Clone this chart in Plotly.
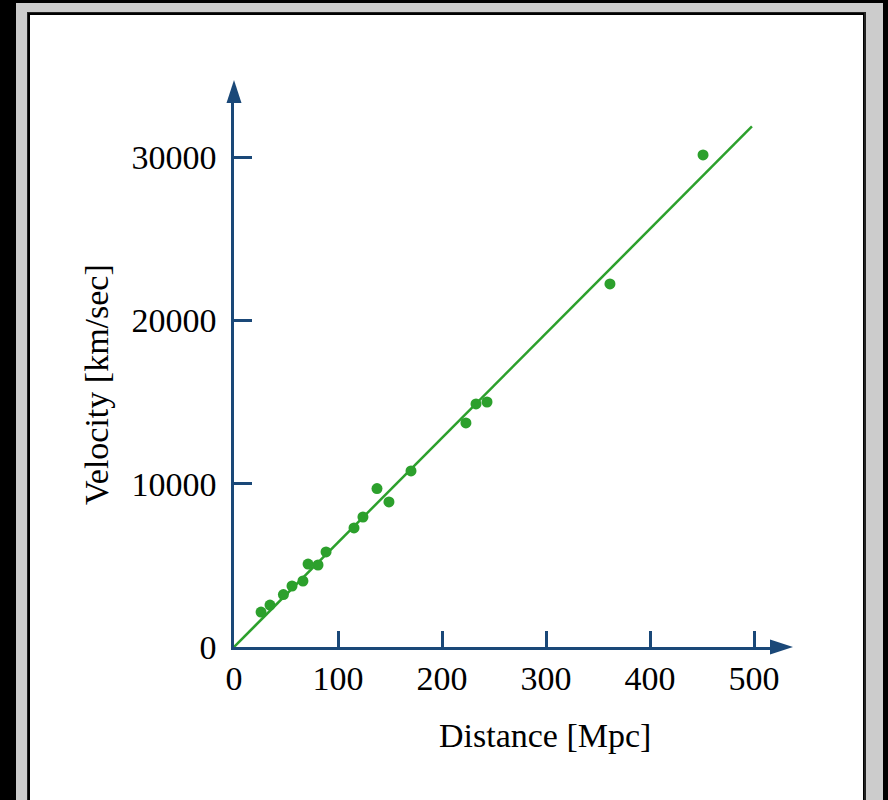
import plotly.graph_objects as go

# Galaxy distances [Mpc] and recession velocities [km/sec]
distance = [26.0, 34.6, 47.5, 55.8, 66.3, 71.2, 80.8, 88.5, 115.4, 124.0,
            137.5, 149.0, 170.2, 223.0, 232.7, 243.3, 361.5, 451.0]
velocity = [2140, 2570, 3210, 3735, 4040, 5080, 5020, 5820, 7290, 7960,
            9700, 8880, 10780, 13720, 14880, 15000, 22230, 30130]

# Linear fit through the origin
fit_slope = 64.0
fit_x = [0, 498]
fit_y = [fit_slope * x for x in fit_x]

x_ticks = [0, 100, 200, 300, 400, 500]
y_ticks = [0, 10000, 20000, 30000]

W, H = 888, 800
AXIS = "#1a4878"
GREEN = "#2ca02c"
FONT = "Liberation Serif, Times New Roman, serif"


def fx(p):
    return p / W


def fy(p):
    return 1 - p / H


fig = go.Figure()
fig.add_trace(go.Scatter(x=fit_x, y=fit_y, mode="lines",
                         line=dict(color=GREEN, width=2.5), hoverinfo="skip"))
fig.add_trace(go.Scatter(x=distance, y=velocity, mode="markers",
                         marker=dict(color=GREEN, size=11, line_width=0)))

shapes = [
    # outer frame
    dict(type="rect", xref="paper", yref="paper", x0=fx(16), x1=fx(883),
         y0=fy(805), y1=fy(3), fillcolor="#cccccc", line_width=0, layer="below"),
    dict(type="rect", xref="paper", yref="paper", x0=fx(27), x1=fx(866),
         y0=fy(805), y1=fy(12), fillcolor="#222222", line_width=0, layer="below"),
    dict(type="rect", xref="paper", yref="paper", x0=fx(28), x1=fx(864),
         y0=fy(805), y1=fy(13), fillcolor="#000000", line_width=0, layer="below"),
    dict(type="rect", xref="paper", yref="paper", x0=fx(30), x1=fx(863),
         y0=fy(805), y1=fy(15), fillcolor="#ffffff", line_width=0, layer="below"),
    # axis arrowheads
    dict(type="path", xref="paper", yref="paper",
         path=f"M {fx(234)} {fy(80)} L {fx(226.5)} {fy(103)} L {fx(241.5)} {fy(103)} Z",
         fillcolor=AXIS, line_width=0),
    dict(type="path", xref="paper", yref="paper",
         path=f"M {fx(793)} {fy(647)} L {fx(770)} {fy(639.5)} L {fx(770)} {fy(654.5)} Z",
         fillcolor=AXIS, line_width=0),
]

annotations = [
    dict(text="Velocity [km/sec]", xref="paper", yref="paper", x=fx(97), y=fy(385),
         textangle=-90, showarrow=False, font=dict(family=FONT, size=34, color="#000"),
         xanchor="center", yanchor="middle"),
    dict(text="Distance [Mpc]", xref="paper", yref="paper", x=fx(545), y=fy(735),
         showarrow=False, font=dict(family=FONT, size=34, color="#000"),
         xanchor="center", yanchor="middle"),
]

y_px_per_unit = (647 - 157) / 30000
x_px_per_unit = (754 - 234) / 500

fig.update_layout(
    width=W, height=H,
    margin=dict(l=0, r=0, t=0, b=0, pad=0),
    paper_bgcolor="#000000",
    plot_bgcolor="rgba(0,0,0,0)",
    showlegend=False,
    shapes=shapes,
    annotations=annotations,
    xaxis=dict(
        domain=[fx(234), fx(780)],
        range=[0, (780 - 234) / x_px_per_unit],
        tickvals=x_ticks, ticktext=[str(v) for v in x_ticks],
        ticks="inside", ticklen=16, tickwidth=2.5, tickcolor=AXIS,
        showline=True, linecolor=AXIS, linewidth=2.5,
        showgrid=False, zeroline=False, automargin=False,
        tickfont=dict(family=FONT, size=34, color="#000"),
        ticklabelstandoff=-1,
    ),
    yaxis=dict(
        domain=[fy(647), fy(95)],
        range=[0, (647 - 95) / y_px_per_unit],
        tickvals=y_ticks, ticktext=[str(v) for v in y_ticks],
        ticks="inside", ticklen=18, tickwidth=2.5, tickcolor=AXIS,
        showline=True, linecolor=AXIS, linewidth=2.5,
        showgrid=False, zeroline=False, automargin=False,
        tickfont=dict(family=FONT, size=34, color="#000"),
        ticklabelstandoff=8,
    ),
)

fig.write_html("out.html")
